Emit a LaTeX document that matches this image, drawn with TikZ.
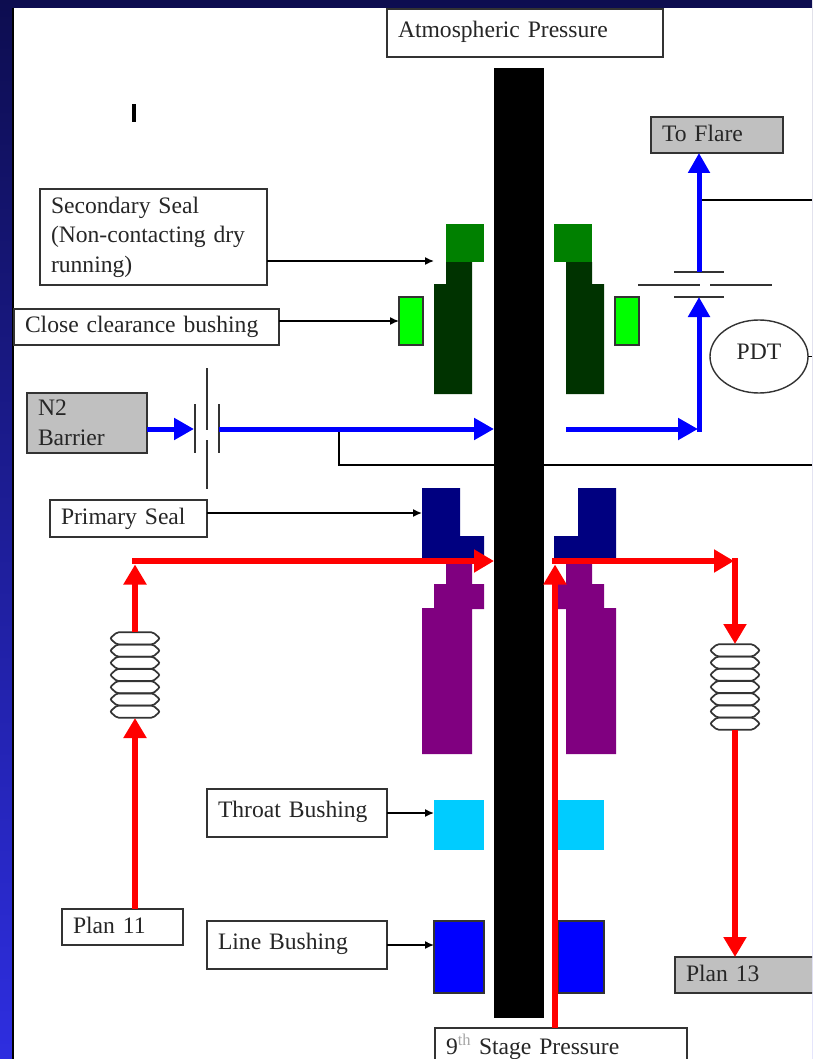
\documentclass[tikz,border=0pt]{standalone}
\usepackage{fontspec}
\setmainfont{Liberation Serif}
\usetikzlibrary{positioning,arrows.meta,calc,shapes.geometric}

\definecolor{slideTop}{HTML}{0D0D50}
\definecolor{slideBot}{HTML}{2E2EE0}
\definecolor{sealGreen}{HTML}{008000}
\definecolor{sealDark}{HTML}{003300}
\definecolor{bushGreen}{HTML}{00FF00}
\definecolor{sealNavy}{HTML}{000080}
\definecolor{sealPurple}{HTML}{800080}
\definecolor{throatCyan}{HTML}{00CCFF}
\definecolor{boxGray}{HTML}{C0C0C0}
\definecolor{lineGray}{HTML}{333333}

\tikzset{
  labelbox/.style 2 args={
    draw=lineGray, line width=1.5pt, fill=white, inner xsep=11pt, inner ysep=0pt, outer sep=0pt,
    text width=#1pt-22pt, minimum height=#2pt, align=left, anchor=north west,
    font=\fontsize{23.6}{29.5}\selectfont, text=black!85
  },
  oneline/.style={text depth=7pt},
  shortline/.style={text depth=3pt},
  graybox/.style={fill=boxGray},
  block/.style n args={3}{
    fill=#3, minimum width=#1pt, minimum height=#2pt, inner sep=0pt, outer sep=0pt, anchor=north west
  },
  coilring/.pic={
    \draw[draw=lineGray, line width=1.7pt, rounded corners=2pt]
      (-25,0) -- (-18,-6.2) -- (18,-6.2) -- (25,0) -- (18,6.2) -- (-18,6.2) -- cycle;
  },
  coilbox/.style={minimum width=50pt, minimum height=86pt, inner sep=0pt, outer sep=0pt},
  thinline/.style={draw=black, line width=1.5pt},
  thinarrow/.style={thinline, -{Latex[length=9pt,width=8pt]}},
  plate/.style={draw=lineGray, line width=1.6pt},
  blueline/.style={draw=blue, line width=5pt},
  bluearrow/.style={blueline, -{Triangle[length=20pt,width=21pt]}},
  redline/.style={draw=red, line width=5.5pt},
  redarrow/.style={redline, -{Triangle[length=20pt,width=22pt]}}
}

\begin{document}
\begin{tikzpicture}[x=1pt,y=-1pt]

\useasboundingbox (0,0) rectangle (812,1059);
\clip (0,0) rectangle (812,1059);

% slide background
\shade[top color=slideTop, bottom color=slideBot] (0,0) rectangle (812,1059);
\fill[white] (14,8) rectangle (812,1059);
\draw[black, line width=1.2pt] (13,8) -- (13,1059);

% black signal lines
\coordinate (tapA) at (339,429);
\coordinate (tapB) at (699,200);
\draw[thinline] (tapB) -- (812,200);
\draw[thinline] (tapA) |- (812,465);

% shaft
\node (shaft) [block={50}{950}{black}] at (494,68) {};
\node (mark) [block={4}{18}{black}] at (132,104) {};

% labels
\node (atm) [labelbox={276}{48}, oneline] at (387,9) {Atmospheric Pressure};
\node (flare) [labelbox={132}{36}, graybox, shortline] at (651,117) {To Flare};
\node (secondary) [labelbox={227}{96}] at (40,189) {Secondary Seal\\(Non-contacting dry\\running)};
\node (close) [labelbox={265}{36}, text depth=5pt] at (14,309) {Close clearance bushing};
\node (barrier) [labelbox={120}{60}, graybox] at (27,393) {N2\\Barrier};
\node (primary) [labelbox={157}{37}, text depth=5pt] at (50,500) {Primary Seal};
\node (throat) [labelbox={180}{48}, oneline] at (207,789) {Throat Bushing};
\node (line) [labelbox={180}{48}, oneline] at (207,921) {Line Bushing};
\node (plan11) [labelbox={121}{36}, shortline] at (62,909) {Plan 11};
\node (plan13) [labelbox={160}{36}, graybox, shortline] at (675,957) {Plan 13};
\node (stage) [labelbox={252}{32}, text height=21pt, text depth=0pt] at (435,1028) {9\textsuperscript{\textcolor{black!35}{th}} Stage Pressure};
\node (pdt) [draw=lineGray, line width=1.4pt, ellipse, minimum width=98pt, minimum height=73pt, inner sep=0pt,
  outer sep=0pt, text depth=10pt, font=\fontsize{23.6}{27}\selectfont, text=black!85] at (759,356.5) {PDT};
\draw[thinline] (pdt.east) -- (812,356.5);

% secondary seal
\node (secTopL) [block={38}{38}{sealGreen}] at (446,224) {};
\node (secTopR) [block={38}{38}{sealGreen}] at (554,224) {};
\fill[sealDark] (446,262) -- (472,262) -- (472,394) -- (434,394) -- (434,284) -- (446,284) -- cycle;
\fill[sealDark] (566,262) -- (592,262) -- (592,284) -- (604,284) -- (604,394) -- (566,394) -- cycle;
\node (bushL) [block={24}{48}{bushGreen}, draw=lineGray, line width=1.4pt] at (399,297) {};
\node (bushR) [block={24}{48}{bushGreen}, draw=lineGray, line width=1.4pt] at (615,297) {};

% primary seal
\fill[sealNavy] (422,488) -- (460,488) -- (460,536) -- (484,536) -- (484,558) -- (422,558) -- cycle;
\fill[sealNavy] (578,488) -- (616,488) -- (616,558) -- (554,558) -- (554,536) -- (578,536) -- cycle;
\fill[sealPurple] (446,558) -- (472,558) -- (472,584) -- (484,584) -- (484,609) -- (472,609) -- (472,754)
  -- (422,754) -- (422,608) -- (434,608) -- (434,584) -- (446,584) -- cycle;
\fill[sealPurple] (566,558) -- (592,558) -- (592,584) -- (604,584) -- (604,608) -- (616,608) -- (616,754)
  -- (566,754) -- (566,609) -- (555,609) -- (555,584) -- (566,584) -- cycle;

% bushings
\node (throatL) [block={50}{50}{throatCyan}] at (434,800) {};
\node (throatR) [block={46}{50}{throatCyan}] at (558,800) {};
\node (lineL) [block={50}{72}{blue}, draw=lineGray, line width=1.4pt] at (434,921) {};
\node (lineR) [block={46}{72}{blue}, draw=lineGray, line width=1.4pt] at (558,921) {};

% valves
\coordinate (valveA) at (207,429);
\coordinate (valveAin) at (194,429);
\coordinate (valveAout) at (219,429);
\coordinate (valveBin) at (699,297);
\coordinate (valveBout) at (699,272);
\draw[plate] (195,404) -- (195,453);
\draw[plate] (219,404) -- (219,453);
\draw[plate] (207,368) -- (207,430);
\draw[plate] (207,440) -- (207,489);
\draw[plate] (674,272) -- (724,272);
\draw[plate] (674,297) -- (724,297);
\draw[plate] (638,285) -- (700,285);
\draw[plate] (710,285) -- (772,285);

% coils
\node (coilA) [coilbox] at (135,675) {};
\node (coilB) [coilbox] at (735,687) {};
\foreach \k in {-3,...,3} {
  \pic at ($(coilA)+(0,12.2*\k)$) {coilring};
  \pic at ($(coilB)+(0,12.2*\k)$) {coilring};
}

% thin arrows
\coordinate (secIn) at (434,261);
\coordinate (closeIn) at (399,321);
\coordinate (primIn) at (422,513);
\coordinate (throatIn) at (434,813);
\draw[thinarrow] (secondary.east |- secIn) -- (secIn);
\draw[thinarrow] (close.east |- closeIn) -- (closeIn);
\draw[thinarrow] (primary.east |- primIn) -- (primIn);
\draw[thinarrow] (throat.east) -- (throatIn);
\draw[thinarrow] (line.east) -- (line.east -| lineL.west);

% nitrogen
\coordinate (shaftBlue) at (494,429);
\coordinate (blueOut) at (566,429);
\coordinate (blueCorner) at (699,429);
\draw[bluearrow] (barrier.east |- valveA) -- (valveAin);
\draw[bluearrow] (valveAout) -- (shaftBlue);
\draw[bluearrow, shorten >=1pt] (blueOut) -- (blueCorner);
\draw[bluearrow, shorten <=-2.5pt] (blueCorner) -- (valveBin);
\draw[bluearrow] (valveBout) -- (valveBout |- flare.south);

% process gas
\coordinate (redCornerA) at (135,561);
\coordinate (shaftRed) at (494,561);
\coordinate (redOut) at (555,561);
\coordinate (redCornerB) at (735,561);
\draw[redarrow] (plan11.north -| coilA) -- (coilA.south);
\draw[redarrow, shorten >=3.5pt] (coilA.north) -- (redCornerA);
\draw[redarrow, shorten <=-2.7pt] (redCornerA) -- (shaftRed);
\draw[redarrow, shorten >=3.5pt] (stage.north -| redOut) -- (redOut);
\draw[redarrow, shorten >=1pt, shorten <=-2.7pt] (redOut) -- (redCornerB);
\draw[redarrow, shorten <=-2.7pt] (redCornerB) -- (coilB.north);
\draw[redarrow] (coilB.south) -- (coilB.south |- plan13.north);

\end{tikzpicture}
\end{document}
